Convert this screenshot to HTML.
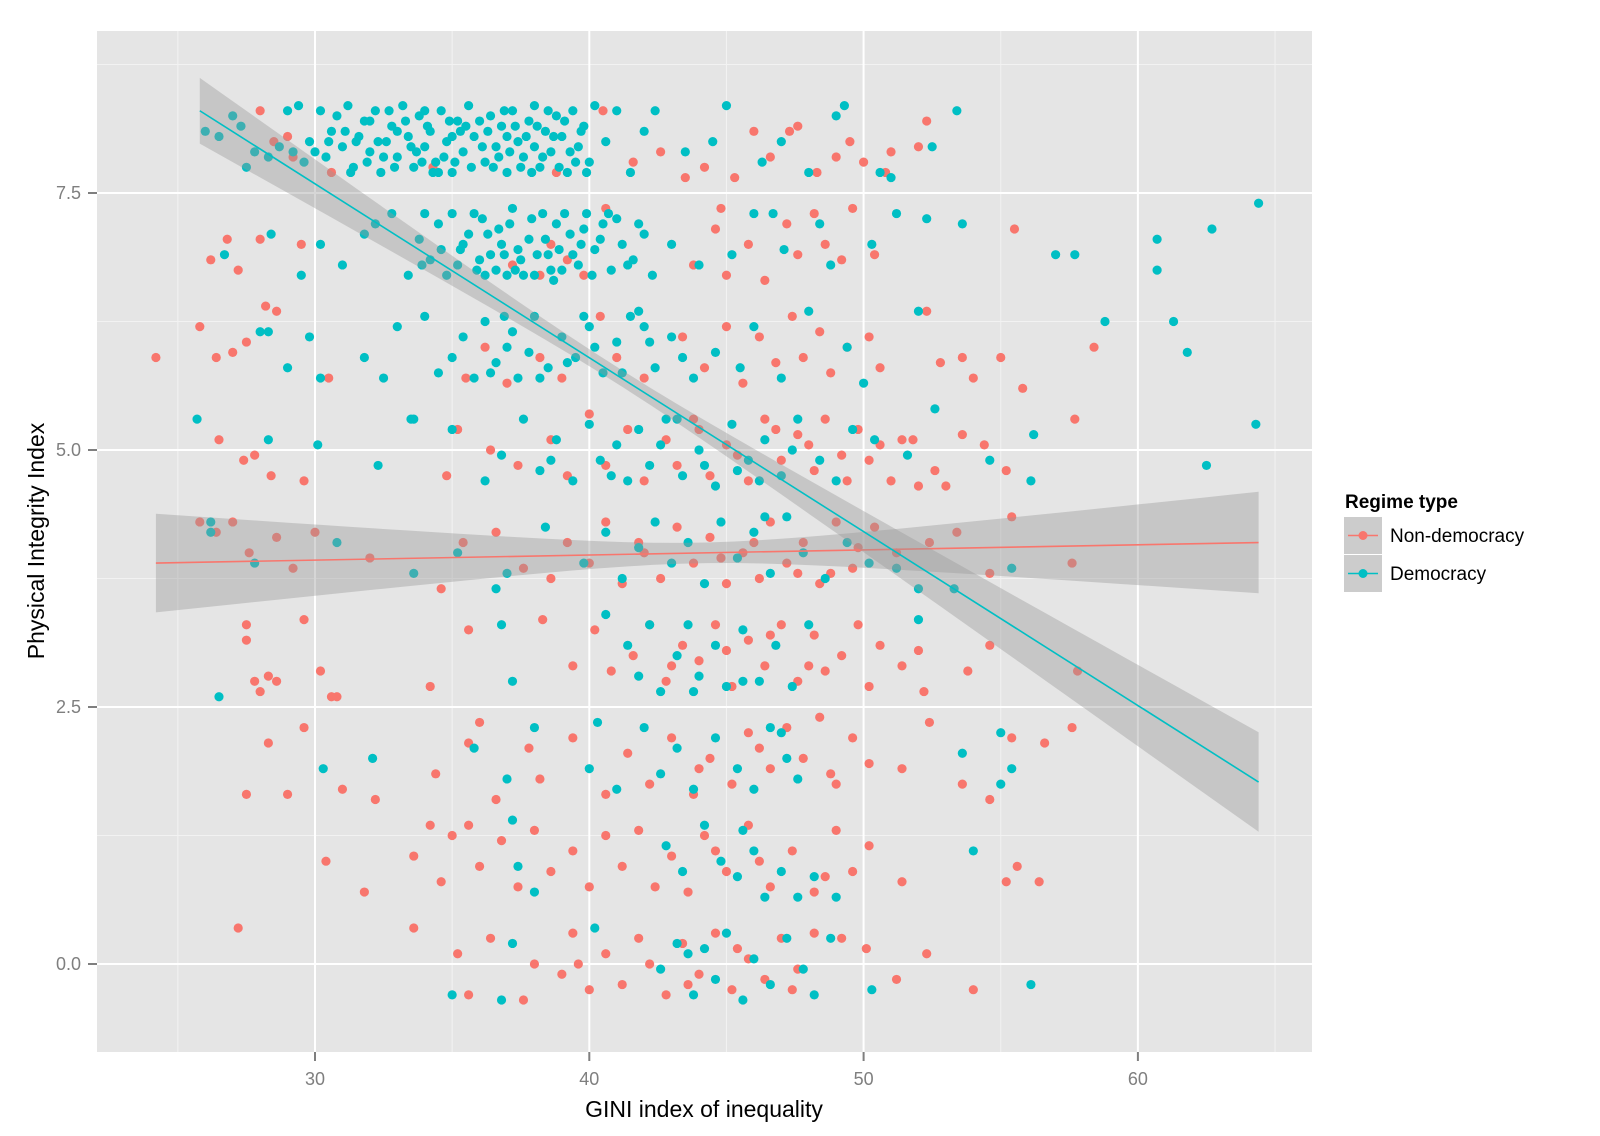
<!DOCTYPE html>
<html><head><meta charset="utf-8"><title>GINI vs Physical Integrity</title>
<style>
html,body{margin:0;padding:0;background:#fff;}
svg{display:block;font-family:"Liberation Sans",Arial,sans-serif;}
</style></head>
<body>
<svg id="chart" width="1600" height="1136" viewBox="0 0 1600 1136" xmlns="http://www.w3.org/2000/svg">
<rect x="97" y="31" width="1215" height="1021" fill="#e5e5e5"/>
<g id="grid"></g>
<g id="pts"></g>
<g id="fits"></g>
<g id="axes"></g>
<text x="704" y="1117" font-size="23" text-anchor="middle" fill="#000">GINI index of inequality</text>
<text transform="translate(44,541) rotate(-90)" font-size="23" text-anchor="middle" fill="#000">Physical Integrity Index</text>
<g>
<text x="1345" y="508" font-size="19" font-weight="bold" fill="#000">Regime type</text>
<g>
<rect x="1344" y="517" width="38" height="37" fill="#cccccc"/>
<line x1="1348" y1="535.5" x2="1378" y2="535.5" stroke="#F8766D" stroke-width="1.5"/>
<circle cx="1363" cy="535.5" r="4.5" fill="#F8766D"/>
<text x="1390" y="542" font-size="19" fill="#000">Non-democracy</text>
</g>
<g>
<rect x="1344" y="555" width="38" height="37" fill="#cccccc"/>
<line x1="1348" y1="573.5" x2="1378" y2="573.5" stroke="#00BFC4" stroke-width="1.5"/>
<circle cx="1363" cy="573.5" r="4.5" fill="#00BFC4"/>
<text x="1390" y="580" font-size="19" fill="#000">Democracy</text>
</g>
</g>
</svg>
<script>
var xTicks=[30,40,50,60];
var xMinor=[25,35,45,55,65];
var yTicks=[0,2.5,5,7.5];
var yTickLabels=["0.0","2.5","5.0","7.5"];
var yMinor=[1.25,3.75,6.25,8.75];
var demPts=[
26.0,8.1,26.5,8.05,27.0,8.25,27.3,8.15,27.5,7.75,27.8,7.9,28.3,7.85,28.7,7.95,29.0,8.3,29.2,7.9,29.4,8.35,29.8,8.0,30.2,8.3,30.4,7.85,30.6,8.1,30.8,8.25,31.0,7.95,31.2,8.35,31.4,7.75,31.6,8.05,31.8,8.2,32.0,7.9,32.2,8.3,32.4,7.7,32.6,8.0,32.8,8.15,33.0,7.85,33.2,8.35,33.4,8.05,33.6,7.75,33.8,8.25,34.0,7.95,34.2,8.1,34.4,7.8,34.6,8.3,34.8,8.0,35.0,7.7,35.2,8.2,35.4,7.9,35.6,8.35,35.8,8.05,36.2,7.8,36.4,8.25,36.6,7.95,36.8,8.15,37.0,7.7,37.2,8.3,37.4,8.0,37.6,7.85,37.8,8.2,38.0,8.35,38.2,7.75,38.4,8.1,38.6,7.9,38.8,8.25,39.0,8.05,39.2,7.7,39.4,8.3,39.6,7.95,39.8,8.15,40.0,7.8,40.2,8.35,40.6,8.0,41.0,8.3,41.5,7.7,42.0,8.1,42.4,8.3,43.5,7.9,44.5,8.0,45.0,8.35,46.3,7.8,47.0,8.0,48.0,7.7,49.0,8.25,49.3,8.35,50.6,7.7,51.0,7.65,52.5,7.95,53.4,8.3,34.0,8.3,33.0,8.1,35.0,8.05,31.5,8.0,32.5,7.85,36.0,8.2,38.5,8.3,37.0,8.05,39.5,7.8,34.5,7.7,30.0,7.9,33.5,7.95,35.5,8.15,32.0,8.2,36.5,7.75,38.0,7.95,
26.7,6.9,28.3,6.15,28.4,7.1,29.5,6.7,30.2,7.0,31.0,6.8,31.8,7.1,32.2,7.2,32.8,7.3,33.4,6.7,33.8,7.05,34.2,6.85,34.5,7.2,34.8,6.7,35.0,7.3,35.3,6.95,35.6,7.1,35.9,6.75,36.1,7.25,36.4,6.9,36.7,7.15,37.0,6.7,37.2,7.35,37.5,6.85,37.8,7.05,38.0,6.7,38.3,7.3,38.5,6.9,38.8,7.2,39.0,6.75,39.3,7.1,39.6,6.8,39.9,7.3,40.2,6.95,40.5,7.2,40.8,6.75,41.2,7.0,41.6,6.85,42.0,7.1,42.3,6.7,43.0,7.0,44.0,6.8,45.2,6.9,46.0,7.3,46.7,7.3,47.1,6.95,48.4,7.2,48.8,6.8,50.3,7.0,51.2,7.3,52.3,7.25,53.6,7.2,57.0,6.9,57.7,6.9,60.7,7.05,62.7,7.15,64.4,7.4,60.7,6.75,36.2,6.7,38.7,6.65,37.3,6.75,35.2,6.8,34.0,7.3,39.7,7.0,41.0,7.25,36.8,7.0,
25.7,5.3,28.0,6.15,29.0,5.8,29.8,6.1,30.2,5.7,31.8,5.9,32.5,5.7,33.0,6.2,33.5,5.3,34.0,6.3,34.5,5.75,35.0,5.9,35.4,6.1,35.8,5.7,36.2,6.25,36.6,5.85,37.0,6.0,37.4,5.7,38.0,6.3,38.5,5.8,39.0,6.1,39.5,5.9,40.0,6.2,40.5,5.75,41.0,6.05,41.5,6.3,42.0,6.2,42.4,5.8,43.0,6.1,43.8,5.7,44.6,5.95,45.5,5.8,46.0,6.2,47.0,5.7,48.0,6.35,49.4,6.0,50.0,5.65,52.0,6.35,58.8,6.25,61.3,6.25,61.8,5.95,41.8,6.35,36.9,6.3,
26.2,4.3,28.3,5.1,30.1,5.05,32.3,4.85,33.6,5.3,35.0,5.2,36.2,4.7,36.8,4.95,37.6,5.3,38.2,4.8,38.8,5.1,39.4,4.7,40.0,5.25,40.4,4.9,41.0,5.05,41.4,4.7,41.8,5.2,42.2,4.85,42.8,5.3,43.4,4.75,44.0,5.0,44.6,4.65,45.2,5.25,45.8,4.9,46.4,5.1,47.0,4.75,47.6,5.3,48.4,4.9,49.0,4.7,49.6,5.2,50.4,5.1,51.6,4.95,52.6,5.4,54.6,4.9,56.1,4.7,56.2,5.15,62.5,4.85,64.3,5.25,43.2,5.3,45.4,4.8,
26.2,4.2,27.8,3.9,30.8,4.1,33.6,3.8,35.2,4.0,36.6,3.65,37.0,3.8,38.4,4.25,39.8,3.9,40.6,4.2,41.2,3.75,41.8,4.05,42.4,4.3,43.0,3.9,43.6,4.1,44.2,3.7,44.8,4.3,45.4,3.95,46.0,4.2,46.6,3.8,47.2,4.35,47.8,4.0,48.6,3.75,49.4,4.1,50.2,3.9,51.2,3.85,52.0,3.65,53.3,3.65,55.4,3.85,46.4,4.35,
26.5,2.6,36.8,3.3,37.2,2.75,40.6,3.4,41.4,3.1,41.8,2.8,42.2,3.3,42.6,2.65,43.2,3.0,43.6,3.3,44.0,2.8,44.6,3.1,45.0,2.7,45.6,3.25,46.2,2.75,46.8,3.1,47.4,2.7,48.0,3.3,52.0,3.35,43.8,2.65,45.6,2.75,
30.3,1.9,32.1,2.0,35.8,2.1,37.0,1.8,38.0,2.3,40.0,1.9,40.3,2.35,41.0,1.7,42.0,2.3,42.6,1.85,43.2,2.1,43.8,1.7,44.6,2.2,45.4,1.9,46.0,1.7,46.6,2.3,47.2,2.0,47.6,1.8,47.0,2.25,53.6,2.05,55.0,2.25,55.4,1.9,55.0,1.75,
37.2,1.4,37.4,0.95,38.0,0.7,42.8,1.15,43.4,0.9,44.2,1.35,44.8,1.0,45.4,0.85,46.0,1.1,46.4,0.65,47.0,0.9,47.6,0.65,48.2,0.85,49.0,0.65,54.0,1.1,45.6,1.3,
35.0,-0.3,36.8,-0.35,37.2,0.2,40.2,0.35,42.6,-0.05,43.2,0.2,43.8,-0.3,44.2,0.15,44.6,-0.15,45.0,0.3,45.6,-0.35,46.0,0.05,46.6,-0.2,47.2,0.25,47.8,-0.05,48.2,-0.3,48.8,0.25,50.3,-0.25,56.1,-0.2,43.6,0.1
];
var demExtra=[
31.1,8.1,31.9,7.8,32.3,8.0,32.9,7.75,33.3,8.2,33.7,7.9,34.1,8.15,34.3,7.7,34.7,7.85,34.9,8.2,35.1,7.8,35.3,8.1,35.7,7.75,36.1,7.95,36.3,8.1,36.7,7.85,36.9,8.3,37.1,7.9,37.3,8.15,37.5,7.75,37.7,8.05,37.9,7.7,38.1,8.15,38.3,7.85,38.7,8.05,38.9,7.75,39.1,8.2,39.3,7.9,39.7,8.1,39.9,7.7,33.9,7.8,32.7,8.3,31.3,7.7,30.5,8.0,29.6,7.8,
35.4,7.0,35.8,7.3,36.0,6.85,36.3,7.1,36.6,6.75,36.9,6.9,37.1,7.2,37.4,6.95,37.6,6.7,37.9,7.25,38.1,6.9,38.4,7.05,38.6,6.75,38.9,6.95,39.1,7.3,39.4,6.9,39.8,7.15,40.1,6.7,40.4,7.05,40.7,7.3,41.4,6.8,41.8,7.2,34.6,6.95,33.9,6.8,
36.4,5.75,37.2,6.15,38.2,5.7,39.2,5.85,40.2,6.0,41.2,5.75,42.2,6.05,43.4,5.9,37.8,5.95,39.8,6.3,
38.6,4.9,40.8,4.75,42.6,5.05,44.2,4.85,46.2,4.7,47.4,5.0
];
var nonPts=[
28.0,8.3,28.5,8.0,29.0,8.05,29.2,7.85,30.6,7.7,34.3,7.75,40.5,8.3,42.6,7.9,43.5,7.65,44.2,7.75,45.3,7.65,46.0,8.1,46.6,7.85,47.3,8.1,47.6,8.15,48.3,7.7,49.0,7.85,49.5,8.0,50.0,7.8,50.8,7.7,51.0,7.9,52.0,7.95,52.3,8.2,41.6,7.8,38.8,7.7,
26.2,6.85,26.8,7.05,27.2,6.75,28.0,7.05,28.6,6.35,29.5,7.0,37.2,6.8,38.2,6.7,38.6,7.0,39.2,6.85,40.6,7.35,43.8,6.8,44.6,7.15,45.0,6.7,45.8,7.0,46.4,6.65,47.2,7.2,47.6,6.9,48.2,7.3,48.6,7.0,49.2,6.85,49.6,7.35,50.4,6.9,55.5,7.15,39.8,6.7,44.8,7.35,
25.8,6.2,26.4,5.9,27.0,5.95,27.5,6.05,28.2,6.4,30.5,5.7,35.5,5.7,36.2,6.0,37.0,5.65,38.2,5.9,39.0,5.7,40.4,6.3,41.0,5.9,42.0,5.7,43.4,6.1,44.2,5.8,45.0,6.2,45.6,5.65,46.2,6.1,46.8,5.85,47.4,6.3,47.8,5.9,48.4,6.15,48.8,5.75,49.4,6.0,50.2,6.1,50.6,5.8,52.3,6.35,52.8,5.85,54.0,5.7,55.0,5.9,55.8,5.6,58.4,6.0,53.6,5.9,
24.2,5.9,26.5,5.1,27.4,4.9,27.8,4.95,28.4,4.75,29.6,4.7,34.8,4.75,35.2,5.2,36.4,5.0,37.4,4.85,38.6,5.1,39.2,4.75,40.0,5.35,40.6,4.85,41.4,5.2,42.0,4.7,42.8,5.1,43.2,4.85,43.8,5.3,44.4,4.75,45.0,5.05,45.8,4.7,46.4,5.3,47.0,4.9,47.6,5.15,48.2,4.8,48.6,5.3,49.2,4.95,49.8,5.2,50.6,5.05,51.0,4.7,51.4,5.1,52.0,4.65,52.6,4.8,53.6,5.15,54.4,5.05,55.2,4.8,57.7,5.3,53.0,4.65,51.8,5.1,
25.8,4.3,26.4,4.2,27.0,4.3,27.6,4.0,28.6,4.15,29.2,3.85,30.0,4.2,32.0,3.95,34.6,3.65,35.4,4.1,36.6,4.2,37.6,3.85,38.6,3.75,39.2,4.1,40.0,3.9,40.6,4.3,41.2,3.7,41.8,4.1,42.6,3.75,43.2,4.25,43.8,3.9,44.4,4.15,45.0,3.7,45.6,4.0,46.2,3.75,46.6,4.3,47.2,3.9,47.8,4.1,48.4,3.7,49.0,4.3,49.6,3.85,50.4,4.25,51.2,4.0,52.4,4.1,53.4,4.2,54.6,3.8,55.4,4.35,57.6,3.9,48.8,3.8,
27.5,3.3,27.5,3.15,27.8,2.75,28.0,2.65,28.3,2.8,28.6,2.75,29.6,3.35,30.2,2.85,30.6,2.6,30.8,2.6,34.2,2.7,35.6,3.25,38.3,3.35,39.4,2.9,40.2,3.25,40.8,2.85,41.6,3.0,42.2,3.3,42.8,2.75,43.4,3.1,44.0,2.95,44.6,3.3,45.2,2.7,45.8,3.15,46.4,2.9,47.0,3.3,47.6,2.75,48.2,3.2,48.6,2.85,49.2,3.0,49.8,3.3,50.6,3.1,51.4,2.9,52.0,3.05,52.2,2.65,53.8,2.85,54.6,3.1,57.8,2.85,50.2,2.7,
27.5,1.65,28.3,2.15,29.0,1.65,29.6,2.3,31.0,1.7,32.2,1.6,34.4,1.85,35.6,2.15,36.0,2.35,36.6,1.6,37.8,2.1,38.2,1.8,39.4,2.2,40.6,1.65,41.4,2.05,42.2,1.75,43.0,2.2,43.8,1.65,44.4,2.0,45.2,1.75,45.8,2.25,46.6,1.9,47.2,2.3,47.8,2.0,48.4,2.4,49.0,1.75,49.6,2.2,50.2,1.95,51.4,1.9,52.4,2.35,53.6,1.75,54.6,1.6,55.4,2.2,56.6,2.15,57.6,2.3,
30.4,1.0,31.8,0.7,33.6,1.05,34.2,1.35,34.6,0.8,35.0,1.25,35.6,1.35,36.0,0.95,36.8,1.2,37.4,0.75,38.0,1.3,38.6,0.9,39.4,1.1,40.0,0.75,40.6,1.25,41.2,0.95,41.8,1.3,42.4,0.75,43.0,1.05,43.6,0.7,44.2,1.25,45.0,0.9,45.8,1.35,46.6,0.75,47.4,1.1,48.2,0.7,49.0,1.3,49.6,0.9,50.2,1.15,51.4,0.8,55.2,0.8,55.6,0.95,56.4,0.8,
27.2,0.35,33.6,0.35,35.2,0.1,35.6,-0.3,36.4,0.25,37.6,-0.35,38.0,0.0,39.0,-0.1,39.4,0.3,40.0,-0.25,40.6,0.1,41.2,-0.2,41.8,0.25,42.2,0.0,42.8,-0.3,43.4,0.2,44.0,-0.1,44.6,0.3,45.2,-0.25,45.8,0.05,46.4,-0.15,47.0,0.25,47.6,-0.05,48.2,0.3,49.2,0.25,50.1,0.15,51.2,-0.15,52.3,0.1,54.0,-0.25,39.6,0.0
];
var nonExtra=[
44.0,5.2,45.4,4.95,46.8,5.2,48.0,5.05,49.4,4.7,50.2,4.9,
42.0,4.0,44.8,3.95,46.0,4.1,47.6,3.8,49.8,4.05,
43.0,2.9,45.0,3.05,46.6,3.2,48.0,2.9,
44.0,1.9,46.2,2.1,48.8,1.85,
44.6,1.1,46.2,1.0,48.6,0.85,
43.6,-0.2,45.4,0.15,47.4,-0.25
];
// fitted lines: [xStart, yStart, xEnd, yEnd]
var demFit=[25.8,8.3,64.4,1.77];
var nonFit=[24.2,3.9,64.4,4.1];
// ribbon half-width parameters: [xCenter, minVar, slopeVar]
var demSE=[41,0.0064,0.000416];
var nonSE=[44,0.01,0.000562];

var NS="http://www.w3.org/2000/svg";
function sx(v){return 315+(v-30)*27.43;}
function sy(v){return 964-v*102.8;}
function mk(tag,attrs,parent){var e=document.createElementNS(NS,tag);for(var k in attrs)e.setAttribute(k,attrs[k]);parent.appendChild(e);return e;}
var grid=document.getElementById('grid'),pts=document.getElementById('pts'),fits=document.getElementById('fits'),axes=document.getElementById('axes');
xMinor.forEach(function(v){var l=mk('line',{x1:sx(v),x2:sx(v),y1:31,y2:1052,stroke:'#f2f2f2','stroke-width':1},grid);

});
yMinor.forEach(function(v){var l=mk('line',{x1:97,x2:1312,y1:sy(v),y2:sy(v),stroke:'#f2f2f2','stroke-width':1},grid);

});
xTicks.forEach(function(v){var l=mk('line',{x1:sx(v),x2:sx(v),y1:31,y2:1052,stroke:'#fff','stroke-width':2},grid);


var t=mk('line',{x1:sx(v),x2:sx(v),y1:1052,y2:1061,stroke:'#7f7f7f','stroke-width':2},axes);


var tx=mk('text',{x:sx(v),y:1085,'font-size':18,'text-anchor':'middle',fill:'#7f7f7f'},axes);tx.textContent=v;

});
yTicks.forEach(function(v,i){var l=mk('line',{x1:97,x2:1312,y1:sy(v),y2:sy(v),stroke:'#fff','stroke-width':2},grid);


var t=mk('line',{x1:88,x2:97,y1:sy(v),y2:sy(v),stroke:'#7f7f7f','stroke-width':2},axes);


var tx=mk('text',{x:81,y:sy(v)+6,'font-size':18,'text-anchor':'end',fill:'#7f7f7f'},axes);tx.textContent=yTickLabels[i];

});
function drawPts(arr,col,name){for(var i=0;i<arr.length;i+=2){var c=mk('circle',{cx:sx(arr[i]),cy:sy(arr[i+1]),r:4.6,fill:col},pts);

}}
drawPts(nonPts,'#F8766D','point-non-democracy');
drawPts(nonExtra,'#F8766D','point-non-democracy');
drawPts(demPts,'#00BFC4','point-democracy');
drawPts(demExtra,'#00BFC4','point-democracy');
function drawFit(f,se,col,name){
  var n=40,up=[],lo=[];
  for(var i=0;i<=n;i++){var x=f[0]+(f[2]-f[0])*i/n;var y=f[1]+(f[3]-f[1])*(x-f[0])/(f[2]-f[0]);
    var h=Math.sqrt(se[1]+se[2]*(x-se[0])*(x-se[0]));up.push(sx(x)+','+sy(y+h));lo.unshift(sx(x)+','+sy(y-h));}
  var r=mk('polygon',{points:up.concat(lo).join(' '),fill:'#999999','fill-opacity':0.4},fits);
  
  
  var l=mk('line',{x1:sx(f[0]),y1:sy(f[1]),x2:sx(f[2]),y2:sy(f[3]),stroke:col,'stroke-width':1.6},fits);
  
  
}
drawFit(nonFit,nonSE,'#F8766D','non-democracy');
drawFit(demFit,demSE,'#00BFC4','democracy');
</script>
</body></html>
